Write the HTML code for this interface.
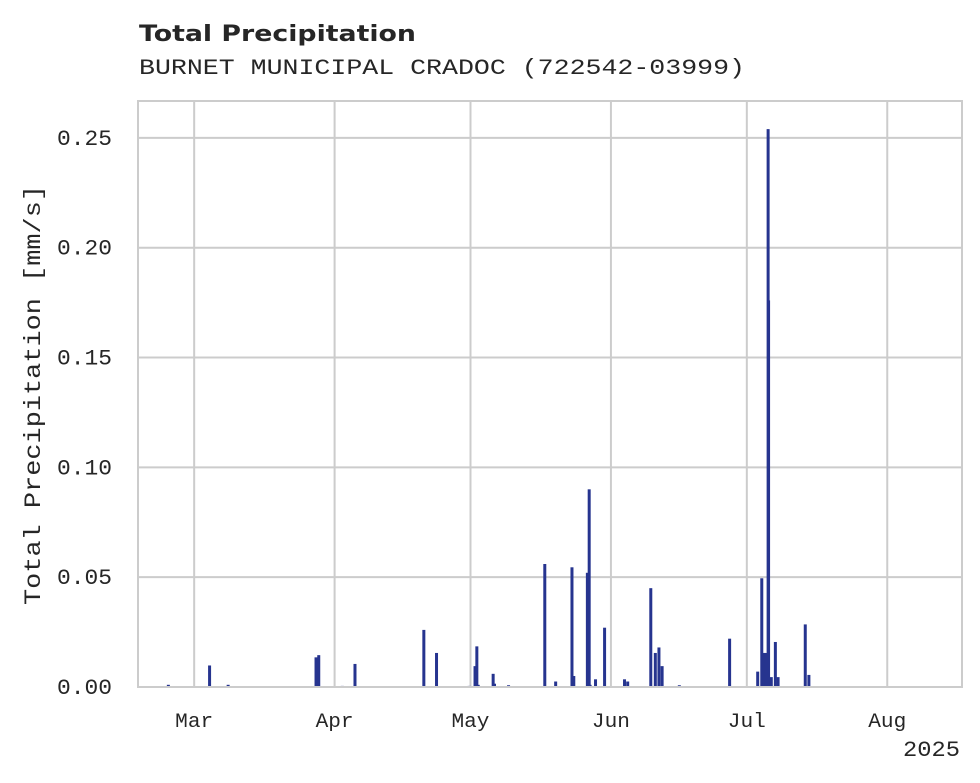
<!DOCTYPE html>
<html><head><meta charset="utf-8"><style>
html,body{margin:0;padding:0;background:#fff;}
svg{display:block;}
text{fill:#262626;}
.mono{font-family:"Liberation Mono",monospace;}
</style></head><body>
<svg id="chart" width="980" height="783">
<text x="139" y="41" font-family="DejaVu Sans, Liberation Sans, sans-serif" font-weight="bold" font-size="22" textLength="277" lengthAdjust="spacingAndGlyphs">Total Precipitation</text>
<text class="mono" x="139" y="74" font-size="22" textLength="606" lengthAdjust="spacingAndGlyphs">BURNET MUNICIPAL CRADOC (722542-03999)</text>
<text class="mono" font-size="23" text-anchor="middle" transform="translate(40,395) rotate(-90)" textLength="420" lengthAdjust="spacingAndGlyphs">Total Precipitation [mm/s]</text>
<g id="grid"></g>
<g id="bars"></g>
<rect x="138" y="101" width="824" height="586" fill="none" stroke="#cccccc" stroke-width="2"/>
<g id="labels"></g>
</svg>
<script>
// days since 2025-03-01
const dayOffsets = [-5.7,3.4,7.5,26.9,27.5,32.7,35.5,50.7,53.5,60.7,62.0,62.4,62.7,66.0,66.3,69.4,77.4,79.8,83.4,83.8,86.8,87.2,87.4,88.6,90.6,95.0,95.7,100.8,101.8,102.6,103.3,107.1,118.2,124.4,125.3,125.8,126.3,126.7,126.8,127.4,128.3,128.9,134.9,135.7];
const precipValues = [0.001,0.0098,0.001,0.0135,0.0145,0.0005,0.0105,0.026,0.0155,0.0005,0.0095,0.0185,0.001,0.006,0.0015,0.0008,0.056,0.0025,0.0545,0.005,0.052,0.090,0.001,0.0035,0.027,0.0035,0.0025,0.045,0.0155,0.018,0.0095,0.0008,0.022,0.007,0.0495,0.0155,0.0155,0.254,0.176,0.0045,0.0205,0.0045,0.0285,0.0055];
const yTicks = [0,0.05,0.10,0.15,0.20,0.25];
const yTickLabels = ["0.00","0.05","0.10","0.15","0.20","0.25"];
const monthOffsets = [0,31,61,92,122,153];
const monthLabels = ["Mar","Apr","May","Jun","Jul","Aug"];

const NS="http://www.w3.org/2000/svg";
const X0=138,X1=962,Y0=687,Y1=101;
const dMin=-12.4,dMax=169.5,vMin=0,vMax=0.2668;
const xs=d=>X0+(d-dMin)/(dMax-dMin)*(X1-X0);
const ys=v=>Y0-(v-vMin)/(vMax-vMin)*(Y0-Y1);
function mk(tag,attrs,parent){const e=document.createElementNS(NS,tag);for(const k in attrs)e.setAttribute(k,attrs[k]);parent.appendChild(e);return e;}
const grid=document.getElementById('grid'),bars=document.getElementById('bars'),labels=document.getElementById('labels');
yTicks.forEach((t,i)=>{
  const l=mk('line',{x1:X0,x2:X1,y1:ys(t),y2:ys(t),stroke:'#cccccc','stroke-width':2},grid);
  
  
  const tx=mk('text',{x:112,y:ys(t)+7,'text-anchor':'end','font-size':22,class:'mono',textLength:55,lengthAdjust:'spacingAndGlyphs'},labels);
  tx.textContent=yTickLabels[i];
  
  
});
monthOffsets.forEach((m,i)=>{
  const x=xs(m);
  const l=mk('line',{x1:x,x2:x,y1:Y1,y2:Y0,stroke:'#cccccc','stroke-width':2},grid);
  
  
  const tx=mk('text',{x:x,y:727,'text-anchor':'middle','font-size':20,class:'mono',textLength:38,lengthAdjust:'spacingAndGlyphs'},labels);
  tx.textContent=monthLabels[i];
  
  
});
const yr=mk('text',{x:960,y:756,'text-anchor':'end','font-size':22,class:'mono',textLength:57,lengthAdjust:'spacingAndGlyphs'},labels);
yr.textContent="2025";


dayOffsets.forEach((d,i)=>{
  const x=xs(d),y=ys(precipValues[i]);
  const r=mk('rect',{x:x-1.5,y:y,width:3,height:Y0-y,fill:'#26348f'},bars);
  
  
});
</script>
</body></html>
